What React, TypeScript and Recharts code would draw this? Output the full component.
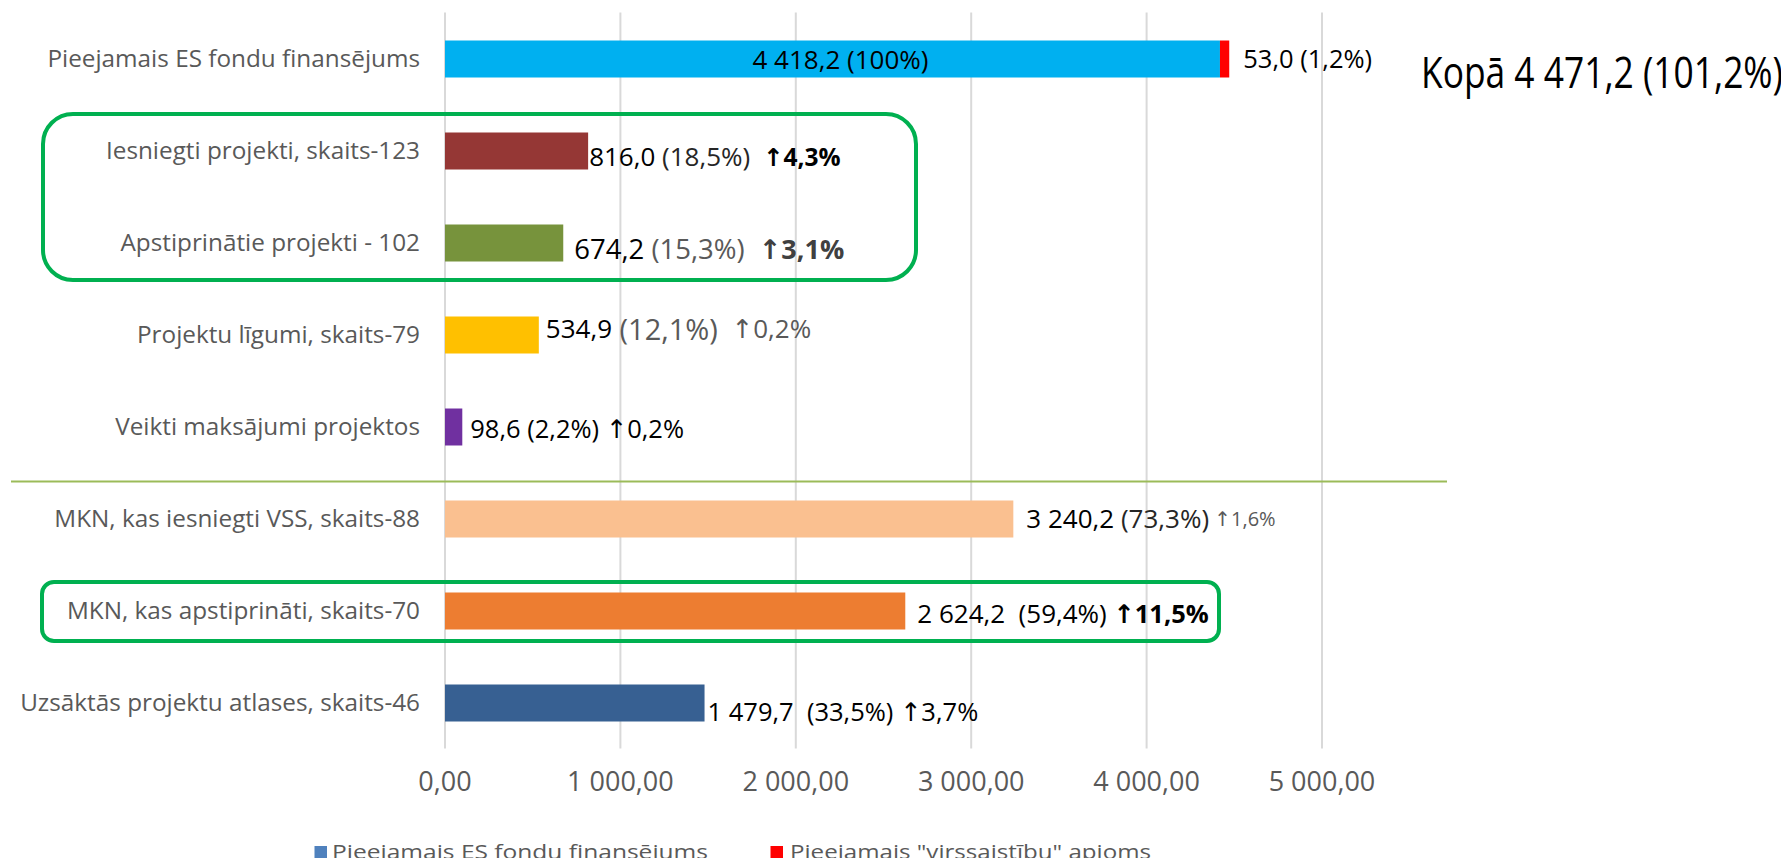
import React from "react";
import { BarChart, Bar, XAxis, YAxis, CartesianGrid, Cell, LabelList } from "recharts";

const categories = [
  "Pieejamais ES fondu finansējums",
  "Iesniegti projekti, skaits-123",
  "Apstiprinātie projekti - 102",
  "Projektu līgumi, skaits-79",
  "Veikti maksājumi projektos",
  "MKN, kas iesniegti VSS, skaits-88",
  "MKN, kas apstiprināti, skaits-70",
  "Uzsāktās projektu atlases, skaits-46",
];
const esValues = [4418.2, 816.0, 674.2, 534.9, 98.6, 3240.2, 2624.2, 1479.7];
const extraValues = [53.0, 0, 0, 0, 0, 0, 0, 0];
const valueLabels = ["4 418,2", "816,0", "674,2", "534,9", "98,6", "3 240,2", "2 624,2", "1 479,7"];
const shareLabels = ["(100%)", "(18,5%)", "(15,3%)", "(12,1%)", "(2,2%)", "(73,3%)", "(59,4%)", "(33,5%)"];
const changeLabels = ["", "↑4,3%", "↑3,1%", "↑0,2%", "↑0,2%", "↑1,6%", "↑11,5%", "↑3,7%"];
const extraLabels = ["53,0 (1,2%)", "", "", "", "", "", "", ""];
const totalLabel = "Kopā 4 471,2 (101,2%)";
const seriesNames = ["Pieejamais ES fondu finansējums", 'Pieejamais "virssaistību" apjoms'];
const xTicks = [0, 1000, 2000, 3000, 4000, 5000];

const FONT = "'Open Sans', 'DejaVu Sans', sans-serif";
const barColors = ["#00b0f0", "#953735", "#77933c", "#ffc000", "#7030a0", "#fac090", "#ed7d31", "#376092"];
const legendColors = ["#4f81bd", "#ff0000"];

const data = categories.map((name, i) => ({ name, es: esValues[i], extra: extraValues[i] }));

const fmtTick = (n: number) =>
  Math.round(n).toString().replace(/\B(?=(\d{3})+(?!\d))/g, " ") + ",00";

// per-row label styling
const rowStyle = [
  { dx: 8, dy: 0, size: 26, shareSize: 26, shareFill: "#000", chFill: "#000", chWeight: 400, chSize: 26, gapShare: " ", gapCh: " " },
  { dx: 1, dy: 5, size: 26, shareSize: 26, shareFill: "#262626", chFill: "#000", chWeight: 700, chSize: 24.5, gapShare: " ", gapCh: "  " },
  { dx: 11, dy: 4.5, size: 27.5, shareSize: 27.5, shareFill: "#595959", chFill: "#404040", chWeight: 700, chSize: 27, gapShare: " ", gapCh: "  " },
  { dx: 7, dy: -7, size: 26, shareSize: 29, shareFill: "#595959", chFill: "#595959", chWeight: 400, chSize: 26, gapShare: " ", gapCh: "  " },
  { dx: 8, dy: 0.5, size: 25.5, shareSize: 25.5, shareFill: "#000", chFill: "#000", chWeight: 400, chSize: 25.5, gapShare: " ", gapCh: " " },
  { dx: 13, dy: -1.5, size: 26, shareSize: 26, shareFill: "#262626", chFill: "#595959", chWeight: 400, chSize: 20, gapShare: " ", gapCh: " " },
  { dx: 12, dy: 2, size: 26, shareSize: 26, shareFill: "#000", chFill: "#000", chWeight: 700, chSize: 25.5, gapShare: "  ", gapCh: " " },
  { dx: 3, dy: 7.5, size: 25.5, shareSize: 25.5, shareFill: "#000", chFill: "#000", chWeight: 400, chSize: 25.5, gapShare: "  ", gapCh: " " },
];

const MainLabel = (props: any) => {
  const { x, y, width, height, index } = props;
  const i = index as number;
  const s = rowStyle[i];
  const cy = y + height / 2 + s.dy;
  if (i === 0) {
    return (
      <text x={x + width / 2 + s.dx} y={cy} textAnchor="middle" dominantBaseline="central"
        style={{ whiteSpace: "pre", fontFamily: FONT, fontSize: s.size }} fill="#000">
        {valueLabels[i] + s.gapShare + shareLabels[i]}
      </text>
    );
  }
  return (
    <text x={x + width + s.dx} y={cy} textAnchor="start" dominantBaseline="central"
      style={{ whiteSpace: "pre", fontFamily: FONT, fontSize: s.size }}>
      <tspan fill="#000">{valueLabels[i]}</tspan>
      <tspan fill={s.shareFill} fontSize={s.shareSize}>{s.gapShare + shareLabels[i]}</tspan>
      <tspan fill={s.chFill} fontWeight={s.chWeight} fontSize={s.chSize}>{s.gapCh + changeLabels[i]}</tspan>
    </text>
  );
};

const ExtraLabel = (props: any) => {
  const { x, y, width, height, index } = props;
  const i = index as number;
  if (!extraLabels[i]) return null;
  return (
    <text x={x + width + 14} y={y + height / 2 - 1} textAnchor="start" dominantBaseline="central"
      style={{ fontFamily: FONT, fontSize: 25.5 }} fill="#000">
      {extraLabels[i]}
    </text>
  );
};

export default function App() {
  return (
    <div style={{ position: "relative", width: 1789, height: 866, margin: -8, background: "#fff", fontFamily: FONT, overflow: "hidden" }}>
      <BarChart width={1789} height={866} data={data} layout="vertical" barSize={37}
        margin={{ top: 12.5, right: 467, bottom: 0, left: 0 }}>
        <CartesianGrid horizontal={false} vertical={true} stroke="#d9d9d9" strokeWidth={2} />
        <XAxis type="number" domain={[0, 5000]} ticks={xTicks} tickFormatter={fmtTick}
          axisLine={false} tickLine={false} height={117.5} tickMargin={17.5}
          tick={{ fontSize: 27, fill: "#595959", fontFamily: FONT }} />
        <YAxis type="category" dataKey="name" width={445} axisLine={false} tickLine={false}
          tickMargin={19} interval={0}
          tick={{ fontSize: 24.3, fill: "#595959", fontFamily: FONT }} />
        <Bar dataKey="es" name={seriesNames[0]} stackId="a" fill={legendColors[0]} isAnimationActive={false}>
          {data.map((_, i) => <Cell key={i} fill={barColors[i]} />)}
          <LabelList dataKey="es" content={MainLabel} />
        </Bar>
        <Bar dataKey="extra" name={seriesNames[1]} stackId="a" fill={legendColors[1]} isAnimationActive={false}>
          <LabelList dataKey="extra" content={ExtraLabel} />
        </Bar>
      </BarChart>
      <svg width={1789} height={866} style={{ position: "absolute", left: 0, top: 0, pointerEvents: "none" }}>
        <circle cx={132} cy={-5} r={7} fill="#f4c04e" />
        <line x1={11} x2={1447} y1={481.5} y2={481.5} stroke="#9bbb59" strokeWidth={2} />
        <rect x={43} y={114} width={873} height={166} rx={30} ry={30} fill="none" stroke="#00b050" strokeWidth={4} />
        <rect x={42} y={582} width={1177} height={59} rx={12} ry={12} fill="none" stroke="#00b050" strokeWidth={4} />
        <text x={1421} y={88} textLength={362} lengthAdjust="spacingAndGlyphs"
          style={{ fontFamily: FONT, fontSize: 43 }} fill="#000">
          {totalLabel}
        </text>
        {seriesNames.map((n, i) => (
          <g key={i}>
            <rect x={i === 0 ? 314.5 : 770.5} y={846} width={12.5} height={13} fill={legendColors[i]} />
            <text x={i === 0 ? 332 : 790} y={859} textLength={i === 0 ? 376 : 361} lengthAdjust="spacingAndGlyphs"
              style={{ fontFamily: FONT, fontSize: 19.5 }} fill="#595959">{n}</text>
          </g>
        ))}
      </svg>
    </div>
  );
}
